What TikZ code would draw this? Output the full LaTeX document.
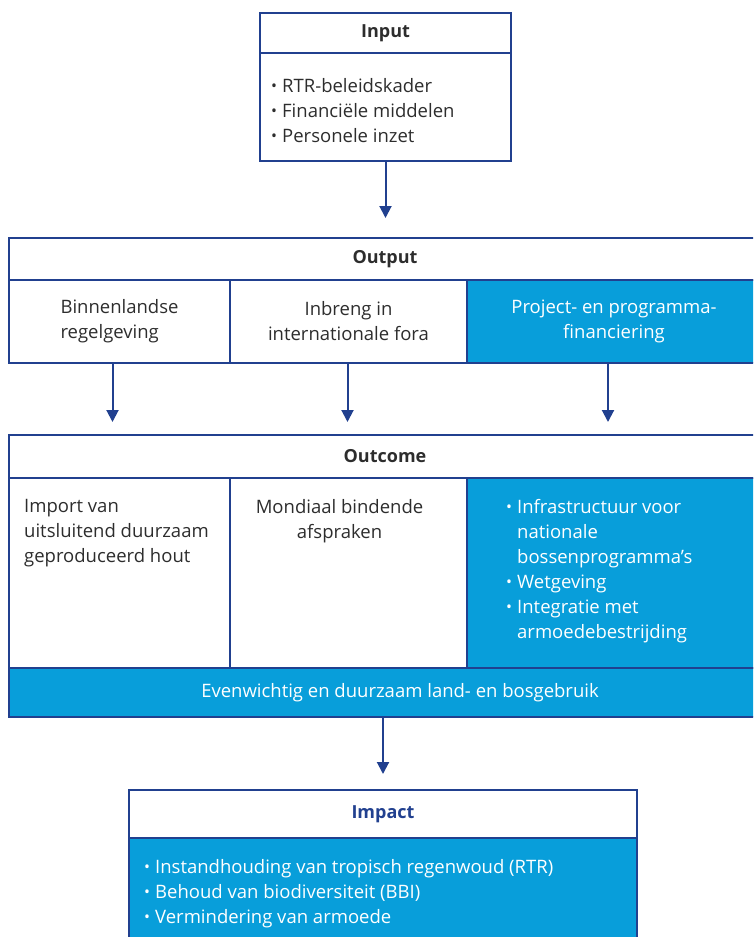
\documentclass[tikz,border=0pt]{standalone}
\usepackage{fontspec}
\setmainfont{Open Sans}
\usetikzlibrary{arrows.meta,positioning}
\definecolor{rodark}{RGB}{33,64,143}
\definecolor{roblue}{RGB}{8,158,218}
\definecolor{rotext}{RGB}{45,45,45}
\newcommand{\blt}{\makebox[11pt][l]{\raisebox{1pt}{\scalebox{0.85}{•}}}}
\newcommand{\bltgap}{\hspace*{11pt}}
\begin{document}
\begin{tikzpicture}[x=1pt,y=-1pt,
  cell/.style={draw=rodark, line width=2pt, anchor=north west, inner sep=0pt, text=rotext, font=\fontsize{18.5}{25}\selectfont, align=center},
  headcell/.style={cell, font=\bfseries\fontsize{18}{25}\selectfont},
  bluecell/.style={cell, fill=roblue, text=white},
  celltext/.style={inner sep=0pt, align=left, text=rotext, font=\fontsize{18.5}{25}\selectfont},
  flow/.style={draw=rodark, line width=2pt, -{Triangle[length=12pt,width=12pt]}}]
\useasboundingbox (0,0) rectangle (753,937);
\clip (0,0) rectangle (753,937);

% Input
\node[headcell, minimum width=251, minimum height=40] (inhdr) at (259,12) {Input};
\node[cell, minimum width=251, minimum height=108] (inbody) at (259,52) {};
\node[celltext, anchor=north west] (intxt) at ([xshift=12pt,yshift=-26pt]inbody.north west)
  {\blt RTR-beleidskader\\\blt Financiële middelen\\\blt Personele inzet};

% Output
\node[headcell, minimum width=752, minimum height=42] (outhdr) at (8,237) {Output};
\node[cell, minimum width=221, minimum height=83, align=left] (op1) at (8,279) {Binnenlandse\\regelgeving};
\node[cell, minimum width=237, minimum height=83] (op2) at (229,279) {Inbreng in\\internationale fora};
\node[bluecell, minimum width=294, minimum height=83] (op3) at (466,279) {Project- en programma-\\financiering};

% Outcome
\node[headcell, minimum width=752, minimum height=43] (ochdr) at (8,434) {Outcome};
\node[cell, minimum width=221, minimum height=190] (oc1) at (8,477) {};
\node[cell, minimum width=237, minimum height=190] (oc2) at (229,477) {};
\node[bluecell, minimum width=294, minimum height=190] (oc3) at (466,477) {};
\node[bluecell, minimum width=782, minimum height=49] (ocbar) at (8,667) {Evenwichtig en duurzaam land- en bosgebruik};

\node[celltext, anchor=north west] (oc1txt) at ([xshift=16pt,yshift=-22pt]oc1.north west)
  {Import van\\uitsluitend duurzaam\\geproduceerd hout};
\node[celltext, anchor=north, align=center] (oc2txt) at ([xshift=-9pt,yshift=-22pt]oc2.north)
  {Mondiaal bindende\\afspraken};
\node[celltext, anchor=north west, text=white] (oc3txt) at ([xshift=40pt,yshift=-22pt]oc3.north west)
  {\blt Infrastructuur voor\\\bltgap nationale\\\bltgap bossenprogramma’s\\\blt Wetgeving\\\blt Integratie met\\\bltgap armoedebestrijding};

% Impact
\node[headcell, minimum width=508, minimum height=48, text=rodark] (imhdr) at (128,789) {Impact};
\node[bluecell, minimum width=508, minimum height=130] (imbody) at (128,837) {};
\node[celltext, anchor=north west, text=white] (imtxt) at ([xshift=16pt,yshift=-22pt]imbody.north west)
  {\blt Instandhouding van tropisch regenwoud (RTR)\\\blt Behoud van biodiversiteit (BBI)\\\blt Vermindering van armoede};

% arrows
\draw[flow, shorten >=19pt] (inbody.south) -- (inbody.south |- outhdr.north);
\draw[flow, shorten >=12pt] ([xshift=-7pt]op1.south) -- ([xshift=-7pt]op1.south |- ochdr.north);
\draw[flow, shorten >=12pt] ([xshift=-1pt]op2.south) -- ([xshift=-1pt]op2.south |- ochdr.north);
\draw[flow, shorten >=12pt] ([xshift=-6pt]op3.south) -- ([xshift=-6pt]op3.south |- ochdr.north);
\draw[flow, shorten >=15pt] (imhdr.north |- ocbar.south) -- (imhdr.north);
\end{tikzpicture}
\end{document}
